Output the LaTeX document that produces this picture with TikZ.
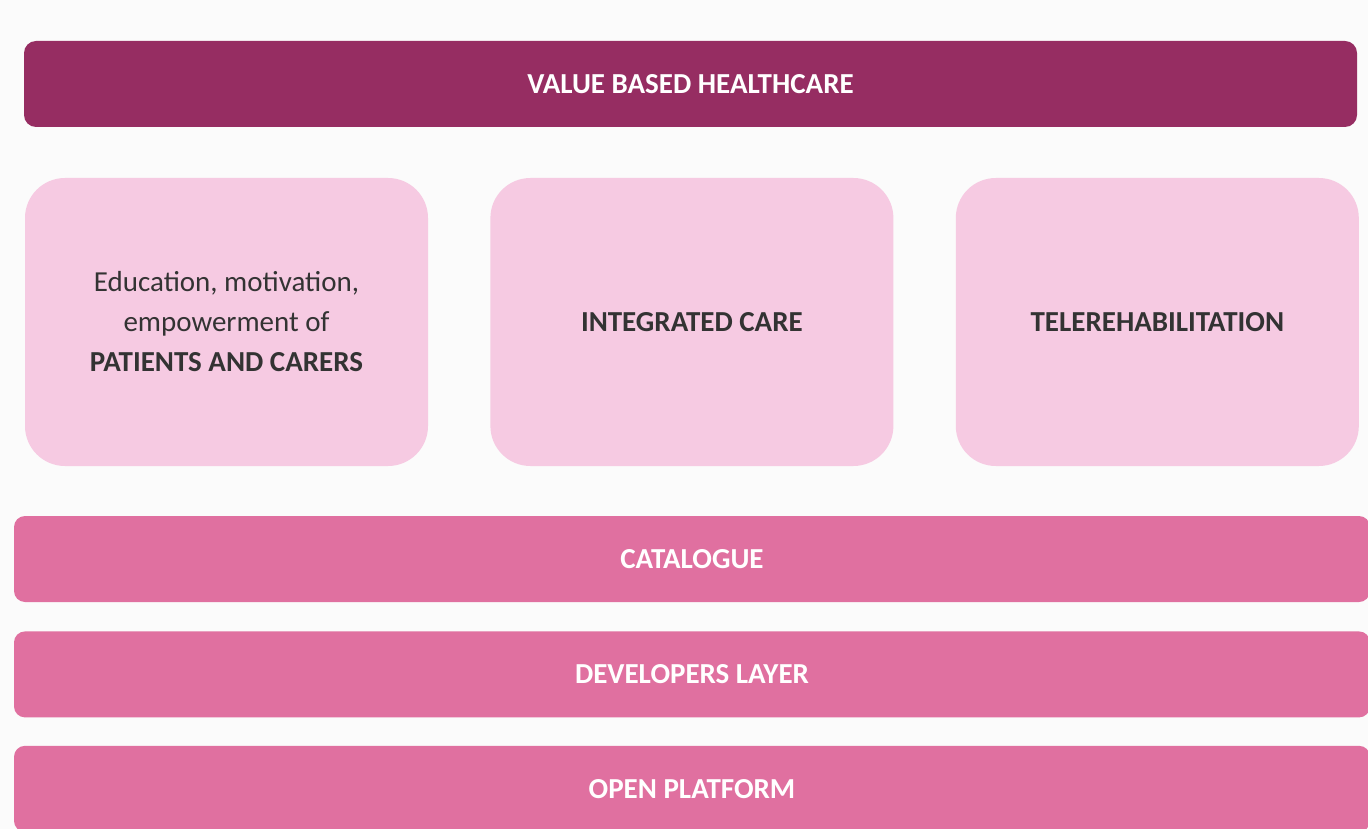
\documentclass[tikz,border=0pt]{standalone}
\usepackage{fontspec}
\setmainfont{Carlito}
\usetikzlibrary{positioning}

\definecolor{vbhPlum}{HTML}{962D62}
\definecolor{vbhPink}{HTML}{F6CAE2}
\definecolor{vbhRose}{HTML}{E070A0}
\definecolor{vbhGrey}{HTML}{333333}
\definecolor{vbhBack}{HTML}{FBFBFB}

\begin{document}
\begin{tikzpicture}[
        x=1pt, y=-1pt,
        topbar/.style={
            rectangle, rounded corners=12pt, fill = vbhPlum, text = white,
            minimum width = 1333pt, minimum height = 86pt, inner sep = 0pt,
            font = \fontsize{29}{34}\selectfont\bfseries
        },
        pillar/.style={
            rectangle, rounded corners=40pt, fill = vbhPink, text = vbhGrey,
            minimum width = 403pt, minimum height = 288pt, inner sep = 0pt,
            font = \fontsize{29}{40}\selectfont, align = center
        },
        layer/.style={
            rectangle, rounded corners=11pt, fill = vbhRose, text = white,
            minimum width = 1356pt, minimum height = 86pt, inner sep = 0pt,
            font = \fontsize{29}{34}\selectfont\bfseries
        },
    ]
        \useasboundingbox[fill = vbhBack] (0,0) rectangle (1368,829);

        \node (valueBased) [topbar] at (690.5,84) {VALUE BASED HEALTHCARE};

        \node (patients) [pillar] at (226.5,322) {Education, motivation,\\ empowerment of\\ \textbf{PATIENTS AND CARERS}};
        \node (integrated) [pillar,right=62pt of patients] {\textbf{INTEGRATED CARE}};
        \node (telerehab) [pillar,right=62pt of integrated] {\textbf{TELEREHABILITATION}};

        \node (catalogue) [layer] at (692,559) {CATALOGUE};
        \node (developers) [layer,below=29pt of catalogue] {DEVELOPERS LAYER};
        \node (openPlatform) [layer,below=28pt of developers] {OPEN PLATFORM};

    \end{tikzpicture}
\end{document}
